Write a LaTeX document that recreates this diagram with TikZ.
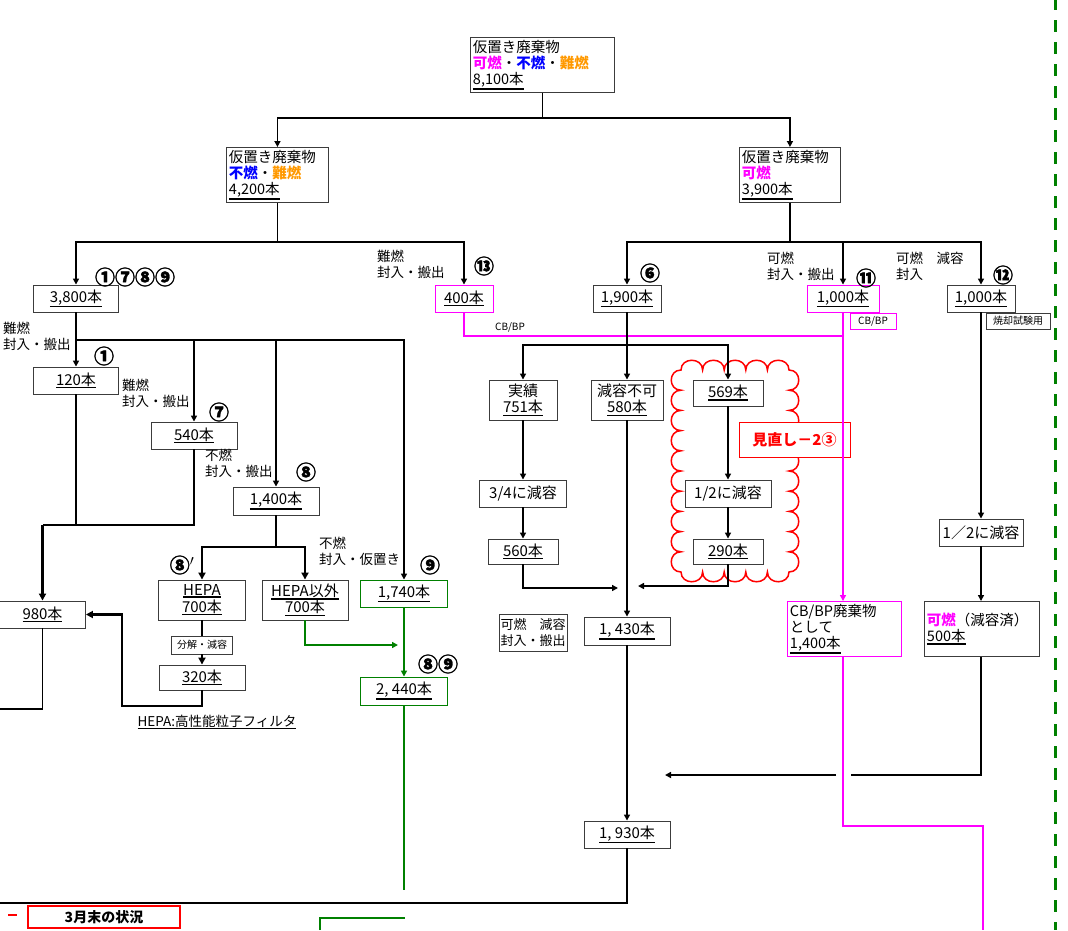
\documentclass[tikz,border=0pt]{standalone}
\usepackage{fontspec}
\setmainfont{Noto Sans CJK JP}
\newfontfamily\cnumfont{Noto Sans CJK JP}[BoldFeatures={FakeBold=1.5}]
\usetikzlibrary{arrows.meta}
\definecolor{mag}{RGB}{255,0,255}
\definecolor{blu}{RGB}{0,0,255}
\definecolor{org}{RGB}{255,153,0}
\definecolor{grn}{RGB}{0,128,0}
\definecolor{bdr}{RGB}{60,60,60}
\newcommand\ulb[1]{\leavevmode\vtop{\hbox{#1}\kern0.6pt\hrule height 1.5pt}}
\tikzset{
  box/.style={draw=bdr, fill=white, line width=0.9pt, inner sep=0pt, font=\fontsize{15}{16.5}\selectfont, align=center},
  lbox/.style={box, align=left, anchor=north west, inner sep=2.5pt, font=\fontsize{14.5}{16.3}\selectfont},
  sbox/.style={box, font=\fontsize{10}{11}\selectfont, inner sep=1.5pt},
  lbl/.style={font=\fontsize{13.5}{16}\selectfont, align=left, inner sep=0pt, anchor=north west},
  cnum/.style={font=\fontsize{20}{20}\cnumfont\bfseries, inner sep=0pt},
  ln/.style={line width=1.8pt},
  thk/.style={line width=2.8pt},
  arr/.style={line width=1.8pt, -{Triangle[width=6pt,length=6pt]}},
  thkarr/.style={line width=2.8pt, -{Triangle[width=7pt,length=7pt]}},
  garr/.style={line width=1.6pt, draw=grn, -{Triangle[width=6pt,length=6pt]}},
  gln/.style={line width=1.6pt, draw=grn},
  mln/.style={line width=1.8pt, draw=mag},
  marr/.style={line width=1.8pt, draw=mag, -{Triangle[width=6pt,length=6pt]}},
}
\begin{document}
\begin{tikzpicture}[x=1pt,y=-1pt]
\useasboundingbox (0,0) rectangle (1068,930);
\fill[white] (0,0) rectangle (1068,930);

% cloud
\draw[red, line width=1.5pt] (681,370)
  \foreach \i in {0,...,4}{ .. controls ({681+21.6*\i},357) and ({681+21.6*(\i+1)},357) .. ({681+21.6*(\i+1)},370) }
  \foreach \i in {0,...,9}{ .. controls (802,{370+20.2*\i}) and (802,{370+20.2*(\i+1)}) .. (789,{370+20.2*(\i+1)}) }
  \foreach \i in {0,...,4}{ .. controls ({789-21.6*\i},585) and ({789-21.6*(\i+1)},585) .. ({789-21.6*(\i+1)},572) }
  \foreach \i in {0,...,9}{ .. controls (668,{572-20.2*\i}) and (668,{572-20.2*(\i+1)}) .. (681,{572-20.2*(\i+1)}) }
  -- cycle;

% top boxes
\node[lbox, text width=139pt, minimum height=54pt] (n8100) at (470,37)
  {仮置き廃棄物\\{\bfseries\color{mag}可燃}・{\bfseries\color{blu}不燃}・{\bfseries\color{org}難燃}\\\ulb{8,100本}};
\node[lbox, text width=97pt, minimum height=54pt] (n4200) at (226,147)
  {仮置き廃棄物\\{\bfseries\color{blu}不燃}・{\bfseries\color{org}難燃}\\\ulb{4,200本}};
\node[lbox, text width=96pt, minimum height=54pt] (n3900) at (739,147)
  {仮置き廃棄物\\{\bfseries\color{mag}可燃}\\\ulb{3,900本}};

% left tree
\node[box, minimum width=85pt, minimum height=27pt] (n3800) at (76,298.5) {\ulb{3,800本}};
\node[box, draw=mag, minimum width=58pt, minimum height=27pt] (n400) at (464,298.5) {\ulb{400本}};
\node[box, minimum width=85pt, minimum height=27pt] (n120) at (76,380.5) {\ulb{120本}};
\node[box, minimum width=86pt, minimum height=27pt] (n540) at (194,435.5) {\ulb{540本}};
\node[box, minimum width=86pt, minimum height=28pt] (n1400) at (276,501) {\ulb{1,400本}};
\node[box, minimum width=87pt, minimum height=40pt] (hepa) at (202,600) {\ulb{HEPA}\\\ulb{700本}};
\node[box, minimum width=86pt, minimum height=40pt] (hepaex) at (305,600) {\ulb{HEPA以外}\\\ulb{700本}};
\node[box, draw=grn, minimum width=87pt, minimum height=27pt] (n1740) at (404,593.5) {\ulb{1,740本}};
\node[box, draw=grn, minimum width=87pt, minimum height=28pt] (n2440) at (404,691) {\ulb{2, 440本}};
\node[sbox, minimum width=61pt, minimum height=18pt] (bunkai) at (202,645) {分解・減容};
\node[box, minimum width=86pt, minimum height=25pt] (n320) at (202,677.5) {\ulb{320本}};
\node[box, minimum width=86pt, minimum height=27pt] (n980) at (42.5,614.5) {\ulb{980本}};

% right tree
\node[box, minimum width=68pt, minimum height=27pt] (n1900) at (627,298.5) {\ulb{1,900本}};
\node[box, draw=mag, minimum width=72pt, minimum height=27pt] (n1000a) at (843,298.5) {\ulb{1,000本}};
\node[sbox, draw=mag, minimum width=46pt, minimum height=16pt] (cbbp) at (873,321) {CB/BP};
\node[box, minimum width=68pt, minimum height=27pt] (n1000b) at (981,298.5) {\ulb{1,000本}};
\node[sbox, minimum width=64pt, minimum height=16pt] (shoki) at (1018,321) {焼却試験用};
\node[box, minimum width=68pt, minimum height=40pt] (jisseki) at (523,400) {実績\\\ulb{751本}};
\node[box, minimum width=72pt, minimum height=40pt] (genyo) at (627,400) {減容不可\\\ulb{580本}};
\node[box, minimum width=70pt, minimum height=26pt] (n569) at (728,393) {\ulb{569本}};
\node[box, minimum width=87pt, minimum height=27pt] (r34) at (523,493.5) {3/4に減容};
\node[box, minimum width=70pt, minimum height=25pt] (n560) at (523,551.5) {\ulb{560本}};
\node[box, minimum width=86pt, minimum height=27pt] (r12a) at (728,493.5) {1/2に減容};
\node[box, minimum width=70pt, minimum height=25pt] (n290) at (728,551.5) {\ulb{290本}};
\node[box, draw=red, minimum width=111pt, minimum height=35pt, font=\fontsize{15}{16}\selectfont\bfseries, text=red] (mina) at (794.5,439.5) {見直し－2③};
\node[box, minimum width=86pt, minimum height=28pt] (n1430) at (627,631) {\ulb{1, 430本}};
\node[box, minimum width=68pt, minimum height=37pt, align=left, font=\fontsize{13}{15.5}\selectfont] (kanen) at (533,632.5) {可燃　減容\\封入・搬出};
\node[box, minimum width=86pt, minimum height=27pt] (n1930) at (627,834.5) {\ulb{1, 930本}};
\node[lbox, draw=mag, text width=109pt, minimum height=53pt] (cbw) at (787,601) {CB/BP廃棄物\\として\\\ulb{1,400本}};
\node[box, minimum width=84pt, minimum height=27pt] (r12b) at (981,532.5) {1／2に減容};
\node[lbox, text width=110pt, minimum height=55pt] (n500) at (924,601) {{\bfseries\color{mag}可燃}（減容済）\\\ulb{500本}};

% labels
\node[lbl] (l1) at (3,322) {難燃\\封入・搬出};
\node[lbl] (l2) at (122,379) {難燃\\封入・搬出};
\node[lbl] (l3) at (205,449) {不燃\\封入・搬出};
\node[lbl] (l4) at (319,537) {不燃\\封入・仮置き};
\node[lbl] (l5) at (377,250) {難燃\\封入・搬出};
\node[lbl] (l6) at (767,252) {可燃\\封入・搬出};
\node[lbl] (l7) at (896,252) {可燃　減容\\封入};
\node[font=\fontsize{10}{11}\selectfont, inner sep=0pt] (cbtxt) at (510,327) {CB/BP};
\node[font=\fontsize{13.5}{15}\selectfont, inner sep=0pt] (hepanote) at (217,722) {\ulb{HEPA:高性能粒子フィルタ}};

\node[cnum] (c1789) at (135,277) {①⑦⑧⑨};
\node[cnum] (c1) at (104,356) {①};
\node[cnum] (c7) at (219,412) {⑦};
\node[cnum] (c8) at (306,472) {⑧};
\node[cnum] (c8p) at (182,565) {⑧$'$};
\node[cnum] (c9) at (430,565) {⑨};
\node[cnum] (c89) at (438,664) {⑧⑨};
\node[cnum] (c13) at (484,266) {⑬};
\node[cnum] (c6) at (650,273) {⑥};
\node[cnum] (c11) at (866,278) {⑪};
\node[cnum] (c12) at (1003,275) {⑫};

% bottom
\node[draw=red, line width=2.2pt, minimum width=152pt, minimum height=22pt, inner sep=0pt, font=\fontsize{14}{15}\selectfont\bfseries] (mar) at (104,917) {3月末の状況};
\draw[red, line width=2.5pt] (8,915) -- (17,915);

% connectors: top
\coordinate (j0) at (n8100.south |- 0,118);
\draw[ln] (n8100.south) -- (j0);
\draw[arr] (j0) -| (n4200.north);
\draw[arr] (j0) -| (n3900.north);

% left tree connectors
\coordinate (j1) at (n4200.south |- 0,242);
\draw[ln] (n4200.south) -- (j1);
\draw[arr] (j1) -| (n3800.north);
\draw[arr] (j1) -| (n400.north);
\coordinate (j2) at (n3800.south |- 0,340);
\draw[thk] (n3800.south) -- (j2) -- (n1740.north |- j2);
\draw[arr] (j2) -- (n120.north);
\draw[arr] (j2) -| (n540.north);
\draw[arr] (j2) -| (n1400.north);
\draw[arr] (j2) -| (n1740.north);
\coordinate (j3) at (n980.north |- 0,525);
\draw[ln] (n120.south) -- (n120.south |- j3);
\draw[ln] (n540.south) |- (j3);
\draw[thkarr] (j3) -- (n980.north);
\coordinate (e980) at (0,709);
\draw[ln] (n980.south) |- (e980);
\coordinate (j4) at (n1400.south |- 0,547);
\draw[thk] (n1400.south) -- (j4);
\draw[thkarr] (j4) -| (hepa.north);
\draw[thkarr] (j4) -| (hepaex.north);
\draw[thk] (hepa.south) -- (bunkai.north);
\draw[thkarr] (bunkai.south) -- (n320.north);
\coordinate (c320) at (122,706);
\draw[thkarr] (n320.south) |- (c320) |- (n980.east);
\coordinate (g1) at (398,645);
\draw[garr] (hepaex.south) |- (g1);
\draw[garr] (n1740.south) -- (n2440.north);
\coordinate (g2) at (404,890);
\draw[gln] (n2440.south) -- (g2);
\coordinate (g3) at (320,930);
\coordinate (g4) at (405,918);
\draw[gln, line width=2pt] (g3) |- (g4);

% magenta
\coordinate (m1) at (n1000a.south |- 0,336);
\draw[mln] (n400.south) |- (m1);
\draw[marr] (n1000a.south) -- (n1000a.south |- cbw.north);
\coordinate (m2) at (983,826);
\coordinate (m3) at (983,930);
\draw[mln] (cbw.south -| n1000a.south) |- (m2) -- (m3);

% right tree connectors
\coordinate (j5) at (n3900.south |- 0,242);
\draw[ln] (n3900.south) -- (j5);
\draw[arr] (j5) -| (n1900.north);
\draw[arr] (j5) -| (n1000a.north);
\draw[arr] (j5) -| (n1000b.north);
\coordinate (j6) at (n1900.south |- 0,345);
\draw[ln] (n1900.south) -- (j6);
\draw[arr] (j6) -| (jisseki.north);
\draw[arr] (j6) -- (genyo.north);
\draw[arr] (j6) -| (n569.north);
\draw[arr] (jisseki.south) -- (r34.north);
\draw[arr] (r34.south) -- (n560.north);
\coordinate (a1) at (618,588);
\draw[arr] (n560.south) |- (a1);
\draw[arr] (n569.south) -- (r12a.north);
\draw[arr] (r12a.south) -- (n290.north);
\coordinate (a2) at (638,586);
\draw[arr] (n290.south) |- (a2);
\draw[arr] (genyo.south) -- (n1430.north);
\draw[arr] (n1430.south) -- (n1930.north);
\coordinate (e1930) at (0,903);
\draw[ln] (n1930.south) |- (e1930);
\draw[arr] (n1000b.south) -- (r12b.north);
\draw[arr] (r12b.south) -- (r12b.south |- n500.north);
\coordinate (r1) at (851,775);
\coordinate (r2) at (836,775);
\coordinate (r3) at (665,775);
\draw[ln] (r12b.south |- n500.south) |- (r1);
\draw[arr] (r2) -- (r3);

% green dashed boundary
\draw[grn, line width=3pt, dash pattern=on 12pt off 10pt] (1055,-2) -- (1055,930);
\end{tikzpicture}
\end{document}
